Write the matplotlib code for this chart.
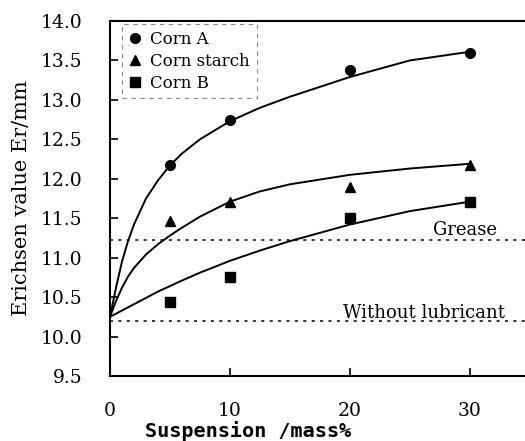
import matplotlib
matplotlib.use("Agg")
import matplotlib.pyplot as plt

plt.rcParams['font.family'] = ['DejaVu Serif']
plt.rcParams['xtick.direction'] = 'in'
plt.rcParams['ytick.direction'] = 'in'

# --- measured points ---
x_pts = [5, 10, 20, 30]
corn_a = [12.18, 12.75, 13.38, 13.60]
corn_starch = [11.46, 11.70, 11.89, 12.17]
corn_b = [10.44, 10.76, 11.50, 11.71]

# --- fitted curves ---
curve_x = [0, 0.5, 1, 1.5, 2, 3, 4, 5, 6, 7.5, 10, 12.5, 15, 20, 25, 30]
curve_a = [10.25, 10.62, 10.95, 11.21, 11.42, 11.75, 11.98, 12.17, 12.32, 12.50, 12.73,
           12.90, 13.04, 13.29, 13.50, 13.61]
curve_starch = [10.25, 10.45, 10.62, 10.76, 10.87, 11.04, 11.17, 11.28, 11.38, 11.52, 11.71,
                11.84, 11.93, 12.05, 12.13, 12.19]
curve_b = [10.25, 10.29, 10.33, 10.37, 10.41, 10.49, 10.57, 10.64, 10.71, 10.81, 10.96,
           11.09, 11.21, 11.42, 11.59, 11.71]

# reference levels
grease = 11.22
no_lub = 10.20

fig = plt.figure(figsize=(5.25, 4.41), dpi=100)
ax = fig.add_axes([110/525, 1 - 376/441, 415/525, 355/441])

ax.plot(curve_x, curve_a, color='black', lw=1.4)
ax.plot(curve_x, curve_starch, color='black', lw=1.4)
ax.plot(curve_x, curve_b, color='black', lw=1.4)

ax.plot(x_pts, corn_a, 'o', color='black', ms=7, label='Corn A')
ax.plot(x_pts, corn_starch, '^', color='black', ms=7, label='Corn starch')
ax.plot(x_pts, corn_b, 's', color='black', ms=6.5, label='Corn B')

ax.axhline(grease, color='black', lw=1.1, linestyle=(0, (2, 3.5)))
ax.axhline(no_lub, color='black', lw=1.1, linestyle=(0, (2, 3.5)))
ax.text(32.3, 11.29, 'Grease', ha='right', va='baseline', fontsize=13)
ax.text(32.9, 10.235, 'Without lubricant', ha='right', va='baseline', fontsize=13)

ax.set_xlim(0, 34.6)
ax.set_ylim(9.5, 14.0)
ax.set_xticks([0, 10, 20, 30])
ax.set_yticks([9.5, 10.0, 10.5, 11.0, 11.5, 12.0, 12.5, 13.0, 13.5, 14.0])
ax.set_yticklabels([f'{v:.1f}' for v in ax.get_yticks()])
ax.tick_params(axis='both', length=6, width=1.2, labelsize=13.5)
ax.tick_params(axis='x', pad=19)
ax.tick_params(axis='y', pad=20)
ax.spines['right'].set_visible(False)
for s in ['left', 'bottom', 'top']:
    ax.spines[s].set_linewidth(1.5)

ax.set_ylabel('Erichsen value Er/mm', fontsize=15)
ax.yaxis.set_label_coords(-0.19, 0.5)
fig.text(248/525, 1 - 437/441, 'Suspension /mass%', ha='center', va='baseline',
         fontsize=14.5, fontweight='bold', family='DejaVu Sans Mono')

leg = ax.legend(loc='upper left', bbox_to_anchor=(0.029, 0.992), borderaxespad=0,
                fontsize=12, handlelength=0.8, handletextpad=0.5, labelspacing=0.3,
                fancybox=False, framealpha=1, borderpad=0.4)
leg.get_frame().set_edgecolor('#888888')
leg.get_frame().set_linestyle((0, (4, 4)))
leg.get_frame().set_linewidth(0.8)

fig.savefig('out.png', dpi=100)
